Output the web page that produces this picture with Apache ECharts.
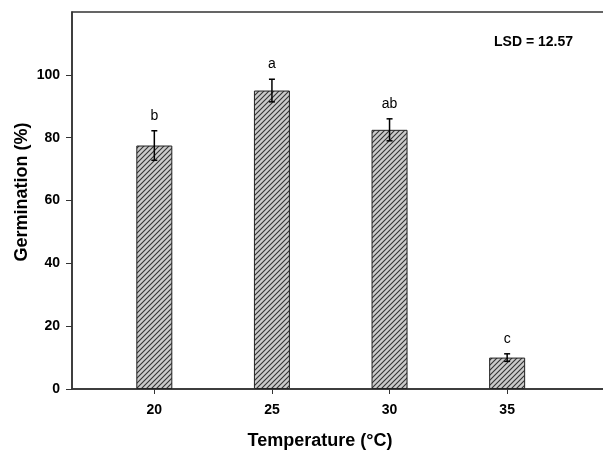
<!DOCTYPE html>
<html>
<head>
<meta charset="utf-8">
<script src="https://cdn.jsdelivr.net/npm/echarts@6/dist/echarts.min.js"></script>
<style>
  html, body { margin: 0; padding: 0; background: #fff; }
  #chart { width: 603px; height: 451px; }
</style>
</head>
<body>
<div id="chart"></div>
<script>
// data
var temps = [20, 25, 30, 35];
var germination = [77.5, 95, 82.5, 10];
var stdErr = [4.7, 3.6, 3.5, 1.2];
var letters = ['b', 'a', 'ab', 'c'];
var yTicks = [0, 20, 40, 60, 80, 100];

var FONT = '"Liberation Sans", Arial, sans-serif';

// hatched fill for the bars
function hatch () {
  var s = 5;
  var c = document.createElement('canvas');
  c.width = s;
  c.height = s;
  var ctx = c.getContext('2d');
  ctx.fillStyle = '#cbcbcb';
  ctx.fillRect(0, 0, s, s);
  ctx.strokeStyle = '#333';
  ctx.lineWidth = 1.1;
  ctx.beginPath();
  ctx.moveTo(-1, s + 1); ctx.lineTo(s + 1, -1);
  ctx.moveTo(-1, 1); ctx.lineTo(1, -1);
  ctx.moveTo(s - 1, s + 1); ctx.lineTo(s + 1, s - 1);
  ctx.stroke();
  return c;
}

var barData = temps.map(function (t, i) { return [t, germination[i]]; });
var errData = temps.map(function (t, i) { return [t, germination[i], stdErr[i], i]; });

var chart = echarts.init(document.getElementById('chart'));
var option = {
  animation: false,
  grid: {
    left: 72, top: 12, width: 541, height: 377,
    outerBoundsMode: 'none',
    show: true, borderColor: '#333', borderWidth: 1.5
  },
  xAxis: {
    type: 'value',
    min: 16.5,
    max: 39.5,
    splitLine: { show: false },
    axisLine: { onZero: false, lineStyle: { color: '#333', width: 1.5 } },
    axisTick: { customValues: temps, length: 5, lineStyle: { color: '#333', width: 1 } },
    axisLabel: {
      customValues: temps, margin: 14,
      color: '#000', fontWeight: 'bold', fontSize: 14, fontFamily: FONT
    }
  },
  yAxis: {
    type: 'value',
    min: 0,
    max: 120,
    interval: 20,
    splitLine: { show: false },
    axisLine: { show: true, lineStyle: { color: '#333', width: 1.5 } },
    axisTick: { show: true, customValues: yTicks, length: 6, lineStyle: { color: '#333', width: 1 } },
    axisLabel: {
      customValues: yTicks, margin: 12,
      color: '#000', fontWeight: 'bold', fontSize: 14, fontFamily: FONT
    }
  },
  graphic: [
    {
      type: 'text', left: 494, top: 35,
      style: { text: 'LSD = 12.57', font: 'bold 14px ' + FONT, fill: '#000' }
    },
    {
      type: 'text', x: 320, y: 441,
      style: {
        text: 'Temperature (\u00b0C)', font: 'bold 18px ' + FONT, fill: '#000',
        textAlign: 'center', textVerticalAlign: 'middle'
      }
    },
    {
      type: 'text', x: 22, y: 192, rotation: Math.PI / 2,
      style: {
        text: 'Germination (%)', font: 'bold 18px ' + FONT, fill: '#000',
        textAlign: 'center', textVerticalAlign: 'middle'
      }
    }
  ],
  series: [
    {
      type: 'bar',
      data: barData,
      barWidth: 36,
      itemStyle: {
        color: { image: hatch(), repeat: 'repeat' },
        borderColor: '#222',
        borderWidth: 1
      }
    },
    {
      type: 'custom',
      data: errData,
      z: 10,
      renderItem: function (params, api) {
        var x = api.value(0);
        var m = api.value(1);
        var e = api.value(2);
        var top = api.coord([x, m + e]);
        var bot = api.coord([x, m - e]);
        var cw = 3;
        var st = { stroke: '#000', lineWidth: 1.5 };
        return {
          type: 'group',
          children: [
            { type: 'line', shape: { x1: top[0], y1: top[1], x2: bot[0], y2: bot[1] }, style: st },
            { type: 'line', shape: { x1: top[0] - cw, y1: top[1], x2: top[0] + cw, y2: top[1] }, style: st },
            { type: 'line', shape: { x1: bot[0] - cw, y1: bot[1], x2: bot[0] + cw, y2: bot[1] }, style: st },
            {
              type: 'text', x: top[0], y: top[1] - 15,
              style: {
                text: letters[api.value(3)], font: '14px ' + FONT, fill: '#000',
                textAlign: 'center', textVerticalAlign: 'middle'
              }
            }
          ]
        };
      }
    }
  ]
};
chart.setOption(option);
</script>
</body>
</html>
